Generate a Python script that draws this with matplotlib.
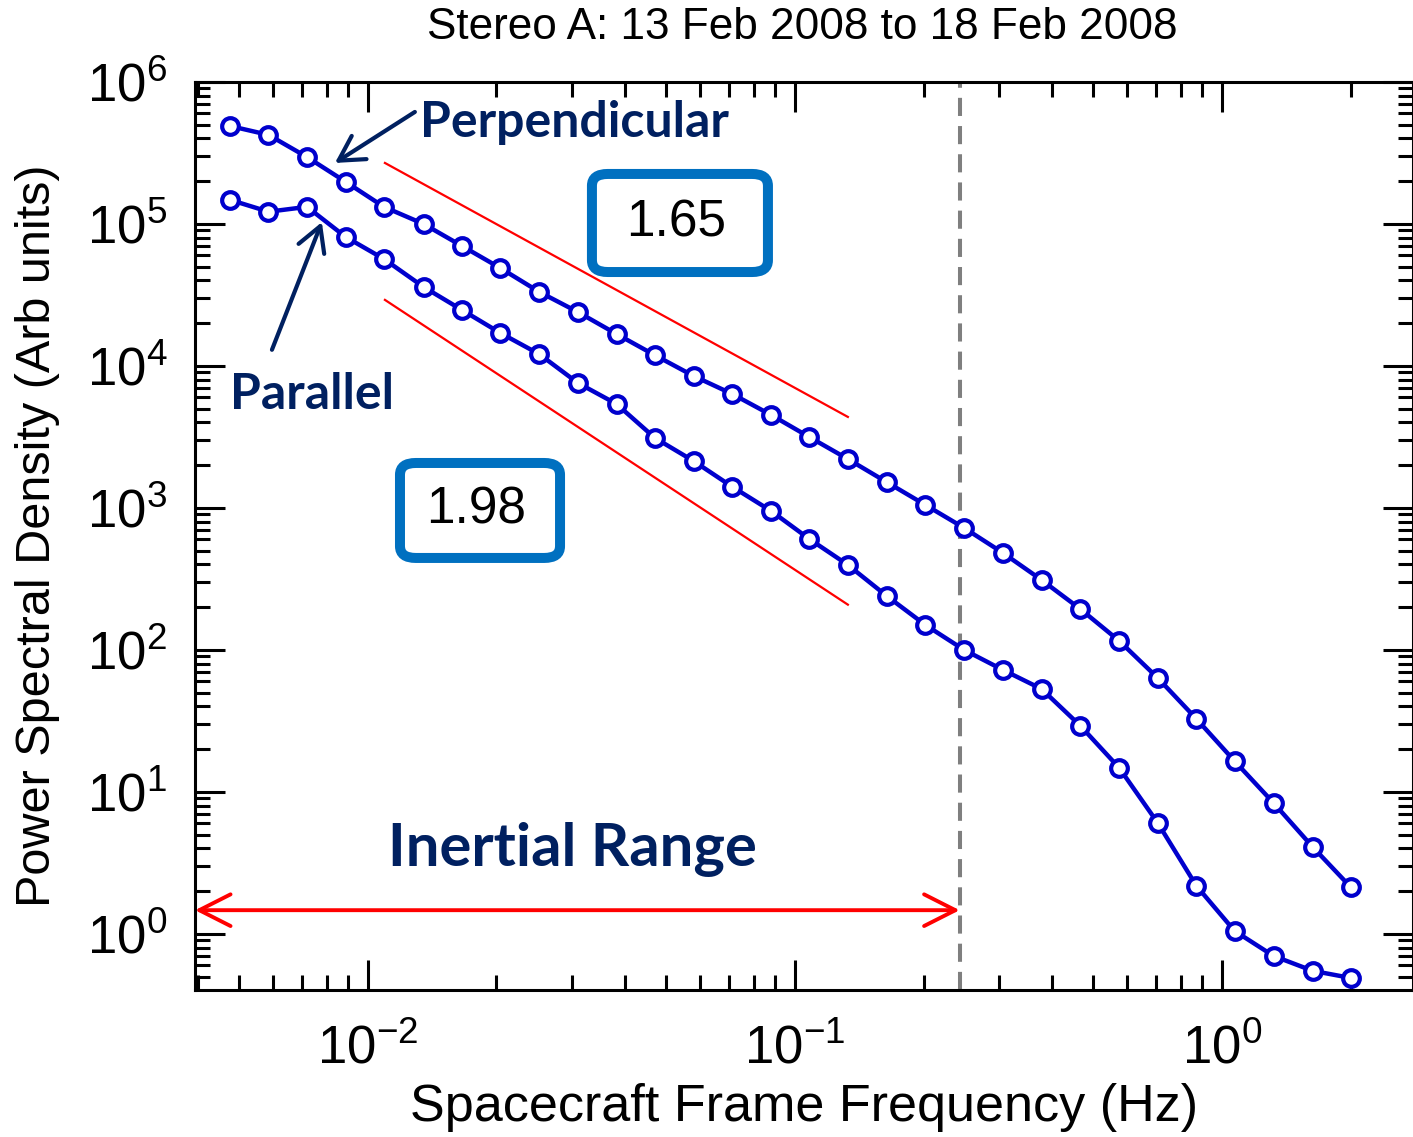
import matplotlib
matplotlib.use("Agg")
import matplotlib.pyplot as plt
from matplotlib.patches import FancyArrowPatch, FancyBboxPatch
from matplotlib.ticker import LogLocator, NullFormatter

plt.rcParams['font.family'] = ['Liberation Sans', 'DejaVu Sans']
plt.rcParams['mathtext.fontset'] = 'custom'
plt.rcParams['mathtext.rm'] = 'Liberation Sans'
plt.rcParams['mathtext.it'] = 'Liberation Sans:italic'
plt.rcParams['mathtext.bf'] = 'Liberation Sans:bold'

# spacecraft frame frequencies (Hz)
freq = [0.00475, 0.00585, 0.0072, 0.00887, 0.0109, 0.0135, 0.0166, 0.0204, 0.0252, 0.0310,
        0.0382, 0.0470, 0.0579, 0.0713, 0.0879, 0.108, 0.133, 0.164, 0.202, 0.249,
        0.307, 0.378, 0.466, 0.574, 0.707, 0.871, 1.07, 1.32, 1.63, 2.0]

psd_perp = [4.9e5, 4.24e5, 2.96e5, 1.98e5, 1.32e5, 1.0e5, 7.0e4, 4.9e4, 3.32e4, 2.4e4,
            1.68e4, 1.19e4, 8.5e3, 6.35e3, 4.52e3, 3.16e3, 2.21e3, 1.52e3, 1.05e3, 723,
            482, 311, 194, 116, 63.5, 32.7, 16.5, 8.37, 4.1, 2.14]

psd_par = [1.48e5, 1.22e5, 1.32e5, 8.1e4, 5.67e4, 3.6e4, 2.48e4, 1.71e4, 1.21e4, 7.6e3,
           5.4e3, 3.11e3, 2.14e3, 1.41e3, 953, 605, 397, 240, 150, 100,
           72.3, 53.1, 29.2, 14.8, 6.05, 2.18, 1.05, 0.70, 0.55, 0.49]

# power-law fits: spectral index, start frequency, start amplitude, end frequency
slope_perp = 1.65
slope_par = 1.98
fit_f0, fit_f1 = 0.01096, 0.133
fit_a_perp = 2.69e5
fit_a_par = 2.92e4

# end of the inertial range (Hz)
f_break = 0.243

navy = '#002060'
box_blue = '#0070C0'
line_blue = '#0000CD'

fig = plt.figure(figsize=(14.13, 11.37), dpi=100)
ax = fig.add_axes([0.1380, 0.1293, 0.862, 0.7986])
ax.set_xscale('log')
ax.set_yscale('log')
ax.set_xlim(0.003936, 2.80)
ax.set_ylim(0.403, 1e6)

for psd in (psd_perp, psd_par):
    ax.plot(freq, psd, color=line_blue, lw=3.2, marker='o', ms=12, mfc='white',
            mec=line_blue, mew=3, zorder=3)

for slope, amp in ((slope_perp, fit_a_perp), (slope_par, fit_a_par)):
    y1 = amp * (fit_f1 / fit_f0) ** (-slope)
    ax.plot([fit_f0, fit_f1], [amp, y1], color='red', lw=1.6, zorder=2)

ax.axvline(f_break, color='#7f7f7f', lw=2.9, dashes=(4.5, 2.5), zorder=1)

# inertial range arrow
ax.add_patch(FancyArrowPatch((ax.get_xlim()[0], 1.47), (f_break, 1.47),
                             arrowstyle='<->,head_length=0.75,head_width=0.38',
                             mutation_scale=30, color='red', lw=2.8,
                             shrinkA=0, shrinkB=0, zorder=4, clip_on=False))
ax.text(0.0301, 3.91, 'Inertial Range', family='Lato', weight='bold', fontsize=43,
        color=navy, ha='center', va='center')

# series labels
ax.text(0.01324, 5.2e5, 'Perpendicular', family='Lato', weight='bold', fontsize=36,
        color=navy, ha='left', va='center')
ax.text(0.00475, 6.25e3, 'Parallel', family='Lato', weight='bold', fontsize=36,
        color=navy, ha='left', va='center')
ax.add_patch(FancyArrowPatch((0.01288, 6.15e5), (0.00837, 2.69e5),
                             arrowstyle='->,head_length=0.8,head_width=0.45',
                             mutation_scale=22, color=navy, lw=3,
                             shrinkA=0, shrinkB=0, zorder=4))
ax.add_patch(FancyArrowPatch((0.00596, 1.30e4), (0.0078, 1.03e5),
                             arrowstyle='->,head_length=0.8,head_width=0.45',
                             mutation_scale=22, color=navy, lw=3,
                             shrinkA=0, shrinkB=0, zorder=4))

# slope boxes
for (x0, x1, yb, yt), txt in (((0.3259, 0.4704, 0.7907, 0.8987), f'{slope_perp:.2f}'),
                              ((0.1683, 0.2997, 0.4758, 0.5804), f'{slope_par:.2f}')):
    ax.add_patch(FancyBboxPatch((x0, yb), x1 - x0, yt - yb, transform=ax.transAxes,
                                boxstyle='round,pad=0,rounding_size=0.013',
                                fc='white', ec=box_blue, lw=7.2, zorder=5))
    ax.text((x0 + x1) / 2 - 0.003, (yb + yt) / 2, txt, transform=ax.transAxes, fontsize=37,
            ha='center', va='center', zorder=6)

ax.xaxis.set_major_locator(LogLocator(base=10, numticks=10))
ax.xaxis.set_minor_locator(LogLocator(base=10, subs=range(2, 10), numticks=10))
ax.yaxis.set_major_locator(LogLocator(base=10, numticks=10))
ax.yaxis.set_minor_locator(LogLocator(base=10, subs=range(2, 10), numticks=10))
ax.xaxis.set_minor_formatter(NullFormatter())
ax.yaxis.set_minor_formatter(NullFormatter())

ax.tick_params(which='both', direction='in', top=True, right=True, width=2.2, color='black')
ax.tick_params(which='major', length=21.5, labelsize=38)
ax.tick_params(which='minor', length=10.8)
ax.tick_params(axis='x', which='major', pad=25)
ax.tick_params(axis='y', which='major', pad=20)
for sp in ax.spines.values():
    sp.set_linewidth(2.2)

fig.text(0.568, 0.976, 'Stereo A: 13 Feb 2008 to 18 Feb 2008', fontsize=31.8,
         ha='center', va='center')
ax.set_xlabel('Spacecraft Frame Frequency (Hz)', fontsize=37.5, labelpad=6)
ax.set_ylabel('Power Spectral Density (Arb units)', fontsize=35)
ax.yaxis.set_label_coords(-0.111, 0.5)

fig.savefig('out.png', dpi=100)
